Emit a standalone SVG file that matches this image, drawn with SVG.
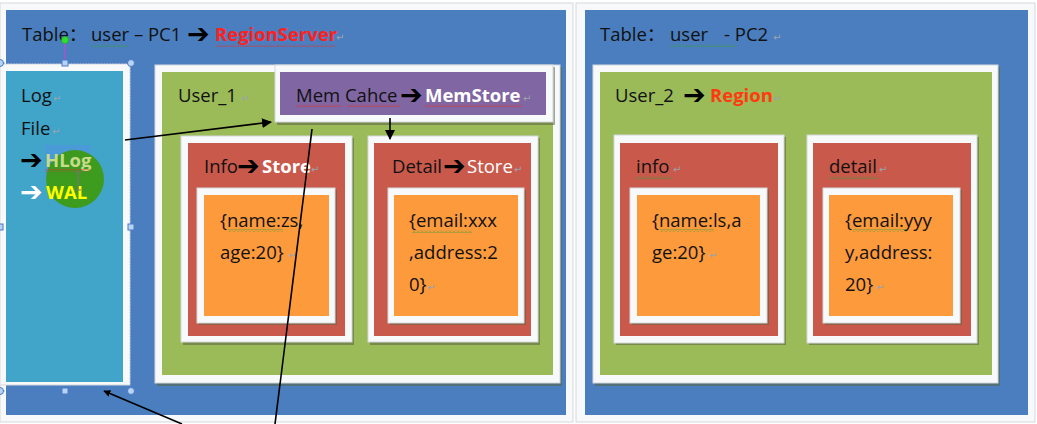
<svg xmlns="http://www.w3.org/2000/svg" width="1037" height="424" viewBox="0 0 1037 424">
<defs>
<style>
.t{font-family:"Open Sans","Noto Sans CJK SC",sans-serif;font-size:18.5px;fill:#111;}
.b{font-weight:bold;}
.ar{font-family:"DejaVu Sans",sans-serif;font-size:27px;font-weight:bold;fill:#000;}
.pm{font-family:"DejaVu Sans",sans-serif;font-size:10px;fill:#9aa4ae;}
.frame{fill:#f8f9fa;stroke:#d4d8dc;stroke-width:1;}
.sh{fill:#5b6340;opacity:0.55;}
.conn{stroke:#000;stroke-width:1.6;fill:none;}
.hd{fill:#b8d4f4;stroke:#4a78c8;stroke-width:1;}
</style>
<pattern id="sqg" width="4" height="3" patternUnits="userSpaceOnUse"><path d="M0 2.5 L2 0.5 L4 2.5" fill="none" stroke="#3c9a3c" stroke-width="0.8"/></pattern>
<pattern id="sqr" width="4" height="3" patternUnits="userSpaceOnUse"><path d="M0 2.5 L2 0.5 L4 2.5" fill="none" stroke="#e03030" stroke-width="0.8"/></pattern>
<marker id="ah" viewBox="0 0 10 10" refX="9" refY="5" markerWidth="7" markerHeight="7" orient="auto" markerUnits="userSpaceOnUse"><path d="M0 0 L10 5 L0 10 z" fill="#000"/></marker>
<marker id="ahb" viewBox="0 0 10 10" refX="9" refY="5" markerWidth="10" markerHeight="10" orient="auto" markerUnits="userSpaceOnUse"><path d="M0 0 L10 5 L0 10 z" fill="#000"/></marker>
</defs>
<rect x="0" y="0" width="1037" height="424" fill="#ffffff"/>

<g id="panel-pc1">
<rect class="frame" x="0" y="3" width="573" height="419"/>
<rect x="6" y="10" width="560" height="405" fill="#4a7ebe"/>
<text class="t" x="22" y="41">Table：<tspan x="91">user – PC1</tspan></text>
<text class="ar" x="187" y="43">➔</text>
<text class="t b" x="215" y="41" style="fill:#ff2020">RegionServer</text>
<rect x="91" y="44" width="37" height="3" fill="url(#sqg)"/>
<rect x="215" y="44" width="120" height="3" fill="url(#sqr)"/>
<text class="pm" x="336" y="41">↵</text>
</g>

<g id="user1">
<rect class="sh" x="157" y="67" width="405" height="319"/>
<rect class="frame" x="155" y="65" width="405" height="318"/>
<rect x="162" y="72" width="391" height="303" fill="#9bbb59"/>
<text class="t" x="178" y="102">User_1</text>
<text class="pm" x="241" y="102">↵</text>
</g>

<g id="memstore">
<rect class="sh" x="277" y="67" width="278" height="58"/>
<rect class="frame" x="275" y="65" width="278" height="57"/>
<rect x="280" y="72" width="266" height="43" fill="#8066a3"/>
<text class="t" x="296" y="102">Mem Cahce</text>
<text class="ar" x="400" y="104">➔</text>
<text class="t b" x="425" y="102" style="fill:#fff">MemStore</text>
<rect x="296" y="104" width="46" height="3" fill="url(#sqr)"/>
<rect x="347" y="104" width="53" height="3" fill="url(#sqr)"/>
<rect x="425" y="104" width="97" height="3" fill="url(#sqr)"/>
<text class="pm" x="523" y="102">↵</text>
</g>

<g id="info-store">
<rect class="sh" x="183" y="138" width="171" height="207"/>
<rect class="frame" x="181" y="136" width="171" height="206"/>
<rect x="188" y="143" width="157" height="193" fill="#c9594b"/>
<text class="t" x="204" y="173">Info</text>
<text class="ar" x="237" y="175">➔</text>
<text class="t b" x="262" y="173" style="fill:#fff">Store</text>
<text class="pm" x="311" y="173">↵</text>
<rect class="sh" x="199" y="190" width="138" height="135"/>
<rect class="frame" x="197" y="188" width="138" height="135"/>
<rect x="204" y="195" width="125" height="121" fill="#fd9a3c"/>
<text class="t" x="220" y="227">{name:zs,</text>
<text class="t" x="220" y="259">age:20}</text>
<text class="pm" x="288" y="259">↵</text>
<rect x="228" y="229" width="55" height="3" fill="url(#sqg)"/>
</g>

<g id="detail-store">
<rect class="sh" x="370" y="138" width="170" height="207"/>
<rect class="frame" x="368" y="136" width="170" height="206"/>
<rect x="374" y="143" width="157" height="193" fill="#c9594b"/>
<text class="t" x="392" y="173">Detail</text>
<text class="ar" x="443" y="175">➔</text>
<text class="t" x="467" y="173" style="fill:#fff">Store</text>
<text class="pm" x="514" y="173">↵</text>
<rect class="sh" x="390" y="190" width="136" height="135"/>
<rect class="frame" x="388" y="188" width="136" height="135"/>
<rect x="394" y="195" width="124" height="121" fill="#fd9a3c"/>
<text class="t" x="409" y="227">{email:xxx</text>
<text class="t" x="409" y="259">,address:2</text>
<text class="t" x="409" y="291">0}</text>
<text class="pm" x="427" y="291">↵</text>
<rect x="412" y="230" width="60" height="3" fill="url(#sqg)"/>
</g>

<g id="logfile">
<rect class="frame" x="0" y="64" width="130" height="321"/>
<rect x="6" y="71" width="117" height="311" fill="#41a5c9"/>
<text class="t" x="21" y="102">Log</text>
<text class="pm" x="53" y="102">↵</text>
<text class="t" x="21" y="135">File</text>
<text class="pm" x="52" y="135">↵</text>
<rect x="45" y="145" width="46" height="32" fill="#4b9ad8"/>
<circle cx="75" cy="179" r="29" fill="#3d9a10" opacity="0.93"/>
<text class="ar" x="20" y="169">➔</text>
<text class="t b" x="45" y="167" style="fill:#c6dc8a">HLog</text>
<rect x="45" y="169" width="45" height="3" fill="url(#sqr)"/>
<text class="ar" x="20" y="201" style="fill:#fff">➔</text>
<text class="t b" x="46" y="199" style="fill:#ffff00">WAL</text>
<path d="M75 172 h6 M78 172 v18 M75 190 h6" stroke="#777" stroke-width="1.2" fill="none"/>
<path d="M131 63 V391 M0 63 H131 M0 391 H131" stroke="#4a78c8" stroke-width="1" stroke-dasharray="1.5,1.5" fill="none"/>
<line x1="65" y1="44" x2="65" y2="60" stroke="#d040d0" stroke-width="1"/>
<circle cx="65" cy="40" r="3.5" fill="#30e030" stroke="#20a020" stroke-width="0.6"/>
<circle class="hd" cx="0" cy="63" r="3.5"/>
<rect class="hd" x="62" y="60" width="6" height="6"/>
<circle class="hd" cx="131" cy="63" r="3.5"/>
<rect class="hd" x="-3" y="224" width="6" height="6"/>
<rect class="hd" x="128" y="224" width="6" height="6"/>
<circle class="hd" cx="0" cy="391" r="3.5"/>
<rect class="hd" x="62" y="388" width="6" height="6"/>
<circle class="hd" cx="131" cy="391" r="3.5"/>
</g>

<g id="panel-pc2">
<rect class="frame" x="576" y="3" width="459" height="419"/>
<rect x="585" y="10" width="443" height="405" fill="#4a7ebe"/>
<text class="t" x="600" y="41">Table：<tspan x="670">user</tspan><tspan x="724">- PC2</tspan></text>
<text class="pm" x="773" y="41">↵</text>
<rect x="670" y="44" width="66" height="3" fill="url(#sqg)"/>
</g>

<g id="user2">
<rect class="sh" x="595" y="67" width="405" height="319"/>
<rect class="frame" x="593" y="65" width="405" height="318"/>
<rect x="600" y="72" width="392" height="303" fill="#9bbb59"/>
<text class="t" x="615" y="102">User_2</text>
<text class="ar" x="683" y="104">➔</text>
<text class="t b" x="710" y="102" style="fill:#ff3a10">Region</text>
<text class="pm" x="773" y="102">↵</text>
</g>

<g id="info-region">
<rect class="sh" x="616" y="137" width="170" height="208"/>
<rect class="frame" x="614" y="135" width="170" height="208"/>
<rect x="620" y="143" width="158" height="193" fill="#c9594b"/>
<text class="t" x="636" y="173">info</text>
<text class="pm" x="673" y="173">↵</text>
<rect x="636" y="176" width="36" height="3" fill="url(#sqg)"/>
<rect class="sh" x="632" y="190" width="137" height="135"/>
<rect class="frame" x="630" y="188" width="137" height="135"/>
<rect x="637" y="195" width="123" height="121" fill="#fd9a3c"/>
<text class="t" x="652" y="227">{name:ls,a</text>
<text class="t" x="652" y="259">ge:20}</text>
<text class="pm" x="709" y="259">↵</text>
<rect x="660" y="229" width="54" height="3" fill="url(#sqg)"/>
</g>

<g id="detail-region">
<rect class="sh" x="809" y="137" width="170" height="208"/>
<rect class="frame" x="807" y="135" width="170" height="208"/>
<rect x="813" y="143" width="158" height="193" fill="#c9594b"/>
<text class="t" x="829" y="173">detail</text>
<text class="pm" x="879" y="173">↵</text>
<rect x="829" y="176" width="49" height="3" fill="url(#sqg)"/>
<rect class="sh" x="825" y="190" width="137" height="135"/>
<rect class="frame" x="823" y="188" width="137" height="135"/>
<rect x="829" y="195" width="124" height="121" fill="#fd9a3c"/>
<text class="t" x="845" y="227">{email:yyy</text>
<text class="t" x="845" y="259">y,address:</text>
<text class="t" x="845" y="291">20}</text>
<text class="pm" x="876" y="291">↵</text>
<rect x="853" y="229" width="54" height="3" fill="url(#sqg)"/>
</g>

<g id="connectors">
<line class="conn" x1="125" y1="140" x2="271" y2="122" marker-end="url(#ahb)"/>
<line class="conn" x1="390" y1="118" x2="390" y2="139" marker-end="url(#ahb)"/>
<line class="conn" x1="312" y1="129" x2="275" y2="424"/>
<line class="conn" x1="182" y1="424" x2="104" y2="391" marker-end="url(#ah)"/>
</g>
</svg>
